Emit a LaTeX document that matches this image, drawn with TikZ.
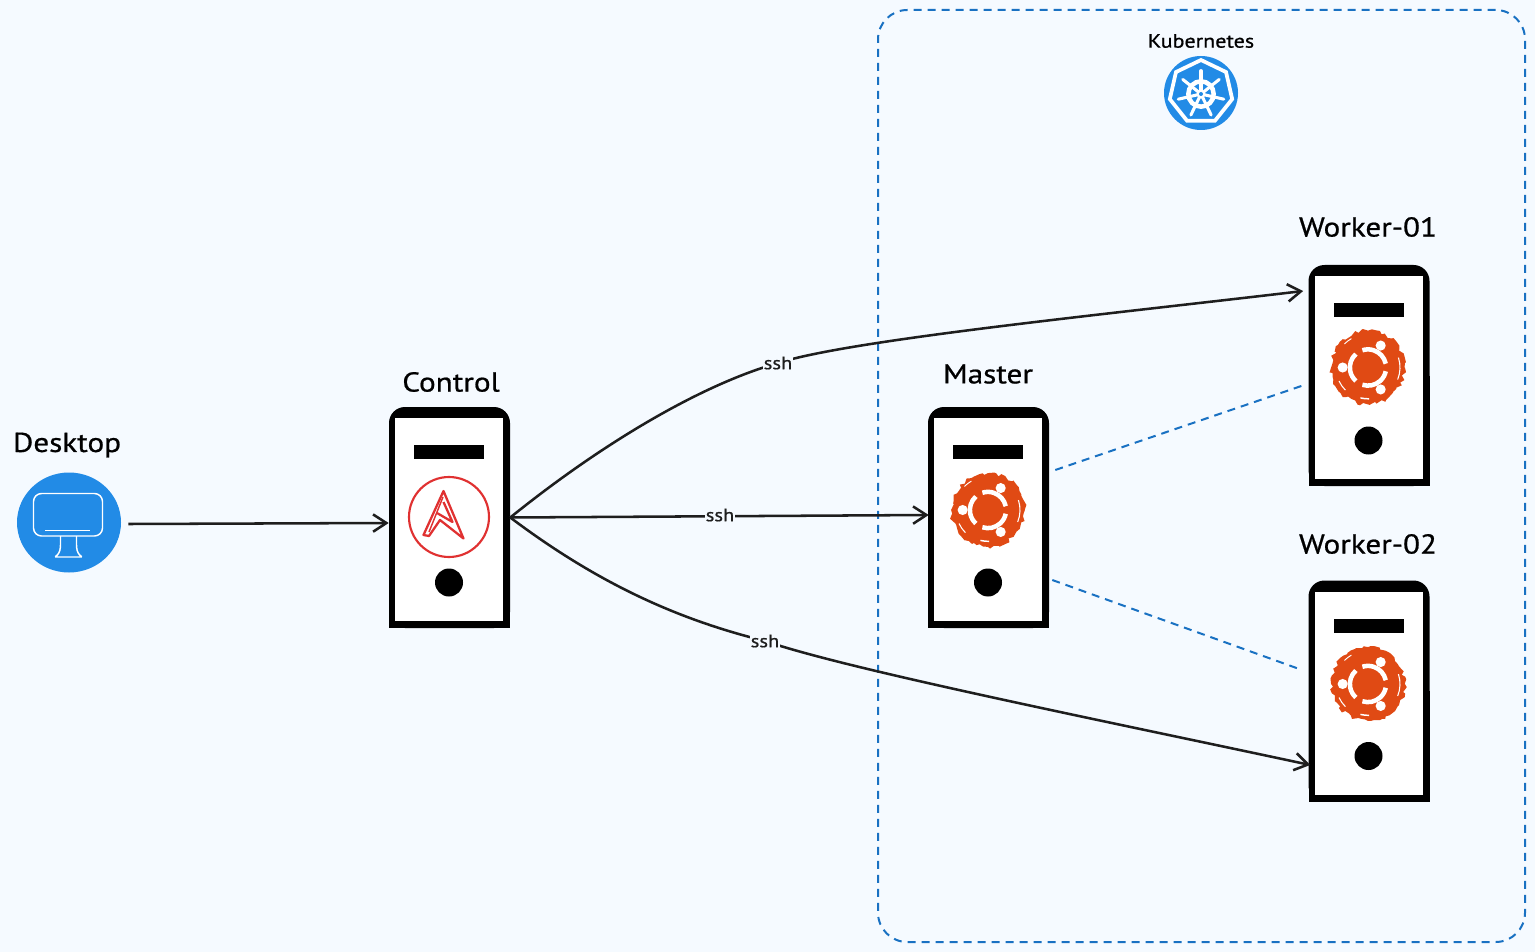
\documentclass[tikz,border=0pt]{standalone}
\usepackage{fontspec}
\setmainfont[FakeStretch=1.14,FakeBold=0.7]{PT Sans}
\usetikzlibrary{arrows.meta,decorations.pathmorphing,shapes.geometric,calc}
\definecolor{pagebg}{HTML}{F5FAFF}
\definecolor{inkblack}{HTML}{1E1E1E}
\definecolor{dashblue}{HTML}{1971C2}
\definecolor{iconblue}{HTML}{228BE6}
\definecolor{ubuorange}{HTML}{E04A14}
\definecolor{ansred}{HTML}{E03131}
\tikzset{
  x=0.75pt,y=-0.75pt,
  srvbody/.style={draw=none,fill=black,rounded corners=12pt,minimum width=90.75pt,minimum height=165.75pt,inner sep=0pt},
  srvface/.style={fill=white,draw=none,minimum width=81pt,minimum height=152.25pt,inner sep=0pt},
  srvslot/.style={fill=black,draw=none,minimum width=52.5pt,minimum height=10.5pt,inner sep=0pt},
  srvled/.style={fill=black,draw=none,circle,minimum size=21pt,inner sep=0pt},
  bigtitle/.style={font=\fontsize{20.5}{24}\selectfont,text=black,inner sep=0pt},
  smalltitle/.style={font=\fontsize{14.5}{18}\selectfont,text=black,inner sep=0pt},
  linklabel/.style={font=\fontsize{13.5}{16}\selectfont,text=inkblack,fill=pagebg,inner sep=0.5pt},
  link/.style={draw=inkblack,line width=1.9pt,-{Straight Barb[length=10pt,width=13pt,line width=1.9pt]}},
  peerlink/.style={draw=dashblue,line width=1.5pt,dash pattern=on 6pt off 4.5pt},
}
\newcommand{\ubulogo}[2]{%
  \fill[ubuorange,decorate,decoration={random steps,segment length=2.5pt,amplitude=1.5pt}] (#1,#2) circle[radius=27.5pt];
  \begin{scope}[shift={(#1,#2)},y=0.75pt]
    \draw[white,line width=3.4pt] (12:13.6pt) arc[start angle=12,end angle=108,radius=13.6pt];
    \draw[white,line width=3.4pt] (132:13.6pt) arc[start angle=132,end angle=228,radius=13.6pt];
    \draw[white,line width=3.4pt] (252:13.6pt) arc[start angle=252,end angle=348,radius=13.6pt];
    \fill[white] (60:19pt) circle[radius=3.8pt];
    \fill[white] (180:19pt) circle[radius=3.8pt];
    \fill[white] (300:19pt) circle[radius=3.8pt];
    \draw[white,line width=0.8pt] (-22:24pt) arc[start angle=-22,end angle=18,radius=24pt];
    \draw[white,line width=1.1pt] (256:23.5pt) arc[start angle=256,end angle=272,radius=23.5pt];
    \draw[white,line width=0.8pt] (205:24pt) arc[start angle=205,end angle=225,radius=24pt];
    \draw[white,line width=0.7pt] (120:25pt) arc[start angle=120,end angle=135,radius=25pt];
  \end{scope}}
\newcommand{\serverunit}[3]{%
  \node[srvbody] (#1) at (#2,#3) {};
  \fill[black] (#2-60.5,#3) rectangle (#2+60.5,#3+110.5);
  \node[srvface] (#1face) at (#2-0.5,#3+2) {};
  \node[srvslot] (#1slot) at (#2-0.5,#3-65.5) {};
  \node[srvled] (#1led) at (#2-0.5,#3+65) {};}
\begin{document}
\begin{tikzpicture}
\useasboundingbox (0,0) rectangle (1535,952);
\fill[pagebg] (0,0) rectangle (1535,952);
% Kubernetes region
\node[draw=dashblue,line width=1.5pt,dash pattern=on 6pt off 4.5pt,rounded corners=22pt,minimum width=485.25pt,minimum height=699pt,inner sep=0pt] (k8sregion) at (1201.5,476) {};
\node[smalltitle] (k8stitle) at (1201,41) {Kubernetes};
\node[circle,fill=iconblue,minimum size=55.5pt,inner sep=0pt] (k8sicon) at (1201,93) {};
\node[regular polygon,regular polygon sides=7,draw=white,line width=2.8pt,minimum size=48pt,inner sep=0pt] (k8shept) at (1201,92) {};
\begin{scope}[shift={(1201,94)},y=0.75pt]
  \draw[white,line width=3.4pt] (0,0) circle[radius=9.5pt];
  \foreach \a in {90,141.4,192.9,244.3,295.7,347.1,38.6}{
    \draw[white,line width=2.3pt,line cap=round] (\a:2.5pt) -- (\a:17.5pt);}
  \fill[white] (0,0) circle[radius=3.4pt];
  \fill[iconblue] (0,0) circle[radius=1.5pt];
\end{scope}
% Desktop
\node[bigtitle] (desktoptitle) at (67,445) {Desktop};
\node[ellipse,fill=iconblue,minimum width=78pt,minimum height=75pt,inner sep=0pt] (desktop) at (69,522.5) {};
\draw[white,line width=1.1pt,rounded corners=6pt] (33.5,493.5) rectangle (102.5,536);
\draw[white,line width=1.1pt] (45,530.5) -- (90,530.5);
\draw[white,line width=1.1pt,rounded corners=1pt] (60.5,536) -- (60.5,546) .. controls (60,552) and (58,555) .. (54.5,557) -- (82.5,557) .. controls (79,555) and (77,552) .. (76.5,546) -- (76.5,536);
% Control
\node[bigtitle] (controltitle) at (451,382) {Control};
\serverunit{control}{449.5}{517.5}
\node[circle,draw=ansred,line width=1.6pt,minimum size=60pt,inner sep=0pt] (ansible) at (449,517) {};
\draw[ansred,line width=1.7pt,line join=round] (423.5,535) -- (443.5,491) -- (463.5,538.5) -- (440,520) -- (429,536) -- cycle;
\draw[ansred,line width=1.7pt,line join=round] (443.5,502) -- (452.5,522) -- (437,513);
\draw[ansred,line width=1.1pt,line join=round] (429,532) -- (443,497);
% Master
\node[bigtitle] (mastertitle) at (988,374) {Master};
\serverunit{master}{988.5}{517.5}
\ubulogo{988}{510}
% Worker-01
\node[bigtitle] (w1title) at (1368,227) {Worker-01};
\serverunit{wone}{1369}{375.5}
\ubulogo{1368}{367.5}
% Worker-02
\node[bigtitle] (w2title) at (1368,544) {Worker-02};
\serverunit{wtwo}{1369}{691}
\ubulogo{1368}{684}
% labels
\coordinate (sshAp) at (778,363);
\coordinate (sshBp) at (720,515);
\coordinate (sshCp) at (765,641);
% connectors
\draw[link] ([shift={(7,1.5)}]desktop.east) -- ([shift={(0,5.5)}]control.west);
\draw[link] (control.east) .. controls (600,445) and (700,385) .. (sshAp) .. controls (850,340) and (1100,315) .. ([shift={(-5,-84.5)}]wone.west);
\draw[link] (control.east) -- ([shift={(1,-2.5)}]master.west);
\draw[link] (control.east) .. controls (600,585) and (680,620) .. (sshCp) .. controls (850,670) and (1100,720) .. ([shift={(2,74)}]wtwo.west);
\draw[peerlink] ([shift={(6,-47.5)}]master.east) -- ([shift={(-4,9.5)}]wone.west);
\draw[peerlink] ([shift={(3,62.5)}]master.east) -- ([shift={(-9,-22)}]wtwo.west);
\node[linklabel] (sshA) at (sshAp) {ssh};
\node[linklabel] (sshB) at (sshBp) {ssh};
\node[linklabel] (sshC) at (sshCp) {ssh};
\end{tikzpicture}
\end{document}
